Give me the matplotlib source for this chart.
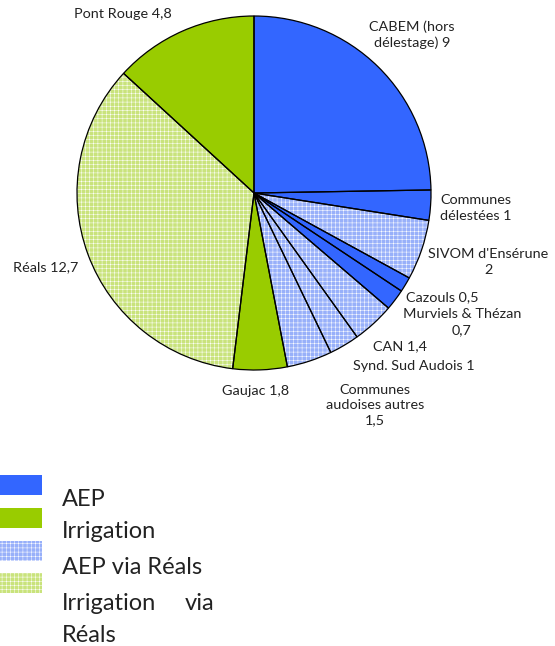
import matplotlib

matplotlib.use("Agg")
import matplotlib.pyplot as plt
from matplotlib.patches import Rectangle

plt.rcParams["font.family"] = ["Lato", "DejaVu Sans"]
plt.rcParams["hatch.linewidth"] = 0.35

# slices, clockwise from 12 o'clock
labels = ["CABEM (hors\ndélestage) 9", "Communes\ndélestées 1", "SIVOM d'Ensérune\n2",
          "Cazouls 0,5", "Murviels & Thézan\n0,7", "CAN 1,4", "Synd. Sud Audois 1",
          "Communes\naudoises autres\n1,5", "Gaujac 1,8", "Réals 12,7", "Pont Rouge 4,8"]
values = [9, 1, 2, 0.5, 0.7, 1.4, 1, 1.5, 1.8, 12.7, 4.8]
groups = ["AEP", "AEP", "AEP via Réals", "AEP", "AEP", "AEP via Réals", "AEP via Réals",
          "AEP via Réals", "Irrigation", "Irrigation via Réals", "Irrigation"]

COLORS = {"AEP": "#3366ff", "Irrigation": "#99cc00",
          "AEP via Réals": "#98b0fa", "Irrigation via Réals": "#c9e37c"}

# label positions in pie-radius units (layout only)
label_pos = [(0.893, 0.893), (1.254, -0.085), (1.322, -0.39), (1.062, -0.588),
             (1.175, -0.729), (0.825, -0.864), (0.904, -0.977), (0.684, -1.198),
             (0.011, -1.119), (-1.175, -0.418), (-0.74, 1.011)]

fig = plt.figure(figsize=(5.55, 6.46), dpi=100)
ax = fig.add_axes([77 / 555, 1 - 370 / 646, 354 / 555, 354 / 646])

# fill layer: hatched wedges get a fine white pattern
fills, _ = ax.pie(values, startangle=90, counterclock=False, radius=1,
                  colors=[COLORS[g] for g in groups],
                  wedgeprops=dict(edgecolor="white", linewidth=0))
for w, g in zip(fills, groups):
    if "via" in g:
        w.set_hatch("++++")
# outline layer
ax.pie(values, startangle=90, counterclock=False, radius=1,
       wedgeprops=dict(fill=False, edgecolor="black", linewidth=0.9))
ax.set_xlim(-1, 1)
ax.set_ylim(-1, 1)
ax.set_aspect("equal")
ax.axis("off")

for lab, (x, y) in zip(labels, label_pos):
    ax.text(x, y, lab, ha="center", va="center", fontsize=10.4, color="#222222",
            linespacing=1.35, clip_on=False)

# legend drawn by hand to mimic the source layout
leg_names = ["AEP", "Irrigation", "AEP via Réals", "Irrigation via Réals"]
patch_top = [475, 508, 541, 573]
for name, top in zip(leg_names, patch_top):
    r = Rectangle((0, 1 - (top + 20) / 646), 42 / 555, 20 / 646, transform=fig.transFigure,
                  facecolor=COLORS[name], edgecolor="white", linewidth=0)
    if "via" in name:
        r.set_hatch("++++")
    fig.patches.append(r)

leg_lines = ["AEP", "Irrigation", "AEP via Réals", "Irrigation", "Réals"]
leg_y = [499, 532, 567, 603, 635]
for txt, y in zip(leg_lines, leg_y):
    fig.text(62 / 555, 1 - y / 646, txt, ha="left", va="center", fontsize=17,
             color="#222222")
fig.text(214 / 555, 1 - 603 / 646, "via", ha="right", va="center", fontsize=17,
         color="#222222")

fig.savefig("out.png", dpi=100)
